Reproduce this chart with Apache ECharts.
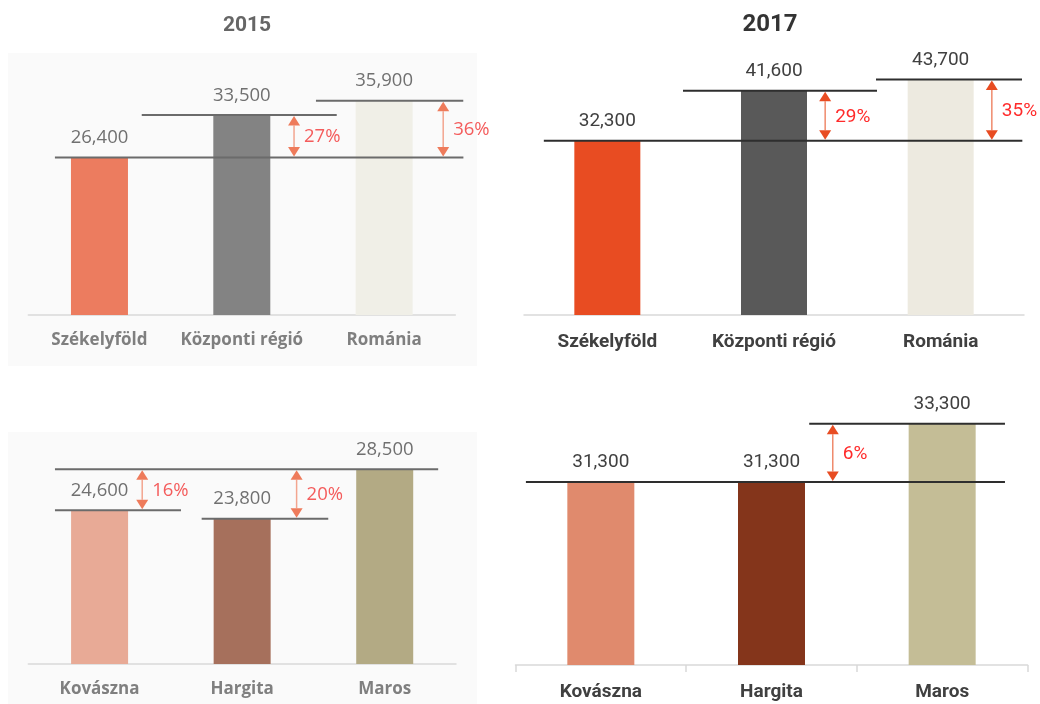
<!DOCTYPE html>
<html>
<head>
<meta charset="utf-8">
<title>Bérek 2015 / 2017</title>
<script src="https://cdn.jsdelivr.net/npm/echarts@6/dist/echarts.min.js"></script>
<style>
    html, body { margin: 0; padding: 0; background: #fff; }
    #chart { width: 1040px; height: 704px; }
</style>
</head>
<body>
<div id="chart"></div>
<script>
// 数据
let regions = ['Székelyföld', 'Központi régió', 'Románia'];
let counties = ['Kovászna', 'Hargita', 'Maros'];
let regions2015 = [26400, 33500, 35900];
let regions2017 = [32300, 41600, 43700];
let counties2015 = [24600, 23800, 28500];
let counties2017 = [31300, 31300, 33300];
let years = ['2015', '2017'];

// styles of the two years
let look = {
    '2015': {
        font: 'Open Sans', catColor: '#7f7f7f', catSize: 17, catMargin: 17,
        valColor: '#707070', valSize: 18.5,
        refLine: '#6b6b6b', arrow: '#ee7b5b', shaft: '#f3a58f', pct: '#f45c5c', pctSize: 18.5
    },
    '2017': {
        font: 'Roboto', catColor: '#404040', catSize: 19, catMargin: 18,
        valColor: '#404040', valSize: 19,
        refLine: '#2e2e2e', arrow: '#e84c22', shaft: '#ef8a6c', pct: '#ff2b2b', pctSize: 19
    }
};

// panel layout: grid box, y range, bar colours,
// ref lines [bar, from, to] and arrows [low bar, high bar, anchor bar, offset] in band widths
let panels = [
    {
        year: '2015', cats: regions, vals: regions2015,
        grid: {left: 28.3, top: 76.2, width: 427, height: 238.8}, yMin: 0, yMax: 40000,
        barWidth: 57, colors: ['#ec7c5f', '#838383', '#f0efe7'], ticks: false,
        lines: [[0, -0.313, 2.557], [1, -0.703, 0.667], [2, -0.479, 0.556]],
        arrows: [[0, 1, 1, 0.367], [0, 2, 2, 0.415]]
    },
    {
        year: '2017', cats: regions, vals: regions2017,
        grid: {left: 524, top: 72.4, width: 500, height: 242.6}, yMin: 0, yMax: 45000,
        barWidth: 66, colors: ['#e84c22', '#595959', '#edeae0'], ticks: false,
        lines: [[0, -0.381, 2.49], [1, -0.546, 0.618], [2, -0.388, 0.488]],
        arrows: [[0, 1, 1, 0.307], [0, 2, 2, 0.307]]
    },
    {
        year: '2015', cats: counties, vals: counties2015,
        grid: {left: 28.3, top: 453.4, width: 427.7, height: 210.6}, yMin: 10000, yMax: 30000,
        barWidth: 57, colors: ['#e8aa96', '#a6705c', '#b3aa84'], ticks: false,
        lines: [[0, -0.313, 0.571], [1, -0.284, 0.604], [2, -2.313, 0.375]],
        arrows: [[0, 2, 0, 0.299], [1, 2, 1, 0.382]]
    },
    {
        year: '2017', cats: counties, vals: counties2017,
        grid: {left: 515.5, top: 403.5, width: 512, height: 261.5}, yMin: 25000, yMax: 34000,
        barWidth: 67, colors: ['#e08a6d', '#84351b', '#c4bd96'], ticks: true,
        lines: [[0, -0.439, 2.368], [2, -0.779, 0.368]],
        arrows: [[1, 2, 1, 0.359]]
    }
];

function fmt(v) {
    return String(v).replace(/\B(?=(\d{3})+(?!\d))/g, ',');
}

let chart = echarts.init(document.getElementById('chart'));

let grids = [], xAxes = [], yAxes = [], series = [];

panels.forEach(function (p, i) {
    let s = look[p.year];
    grids.push(p.grid);
    xAxes.push({
        type: 'category', gridIndex: i, data: p.cats,
        axisLine: {lineStyle: {color: '#d9d9d9', width: 1.5}},
        axisTick: {show: p.ticks, length: 7, lineStyle: {color: '#d9d9d9', width: 1.5}},
        axisLabel: {
            interval: 0, margin: s.catMargin, fontFamily: s.font, fontWeight: 'bold',
            fontSize: s.catSize, color: s.catColor
        }
    });
    yAxes.push({
        type: 'value', gridIndex: i, min: p.yMin, max: p.yMax, show: false,
        splitLine: {show: false}
    });

    // bars
    series.push({
        type: 'bar', xAxisIndex: i, yAxisIndex: i, barWidth: p.barWidth,
        data: p.vals.map(function (v, k) {
            return {value: v, itemStyle: {color: p.colors[k]}};
        }),
        label: {
            show: true, position: 'top', distance: 10,
            fontFamily: s.font, fontSize: s.valSize, color: s.valColor,
            formatter: function (d) { return fmt(d.value); }
        },
        silent: true, z: 2
    });

    // horizontal reference lines at bar tops
    series.push({
        type: 'custom', xAxisIndex: i, yAxisIndex: i, silent: true, z: 5,
        encode: {x: 0, y: 1},
        data: p.lines.map(function (l) { return [l[0], p.vals[l[0]]]; }),
        renderItem: function (params, api) {
            let l = p.lines[params.dataIndex];
            let pt = api.coord([api.value(0), api.value(1)]);
            let bw = api.size([1, 0])[0];
            return {
                type: 'line',
                shape: {x1: pt[0] + l[1] * bw, y1: pt[1], x2: pt[0] + l[2] * bw, y2: pt[1]},
                style: {stroke: s.refLine, lineWidth: 2}
            };
        }
    });

    // difference arrows with percent
    series.push({
        type: 'custom', xAxisIndex: i, yAxisIndex: i, silent: true, z: 6,
        encode: {x: 0, y: [1, 2]},
        data: p.arrows.map(function (a) { return [a[2], p.vals[a[0]], p.vals[a[1]]]; }),
        renderItem: function (params, api) {
            let a = p.arrows[params.dataIndex];
            let bw = api.size([1, 0])[0];
            let lo = api.coord([api.value(0), api.value(1)]);
            let hi = api.coord([api.value(0), api.value(2)]);
            let x = lo[0] + a[3] * bw;
            let y0 = lo[1] - 1, y1 = hi[1] + 1;
            let hw = 6, hh = 9.5;
            let pct = Math.round((api.value(2) / api.value(1) - 1) * 100) + '%';
            return {
                type: 'group',
                children: [
                    {type: 'line', shape: {x1: x, y1: y1 + hh, x2: x, y2: y0 - hh},
                        style: {stroke: s.shaft, lineWidth: 1.5}},
                    {type: 'polygon', shape: {points: [[x, y1], [x - hw, y1 + hh], [x + hw, y1 + hh]]},
                        style: {fill: s.arrow}},
                    {type: 'polygon', shape: {points: [[x, y0], [x - hw, y0 - hh], [x + hw, y0 - hh]]},
                        style: {fill: s.arrow}},
                    {type: 'text', x: x + 10, y: (y0 + y1) / 2 + 1,
                        style: {text: pct, fill: s.pct, fontFamily: s.font, fontSize: s.pctSize,
                            verticalAlign: 'middle', align: 'left'}}
                ]
            };
        }
    });
});

let option = {
    animation: false,
    graphic: [
        // light backing of the 2015 panels
        {type: 'rect', shape: {x: 8, y: 53, width: 469, height: 313}, style: {fill: '#fafafa'}, z: -10},
        {type: 'rect', shape: {x: 8, y: 432, width: 469, height: 272}, style: {fill: '#fafafa'}, z: -10},
        {type: 'text', x: 247, y: 26, style: {text: years[0], align: 'center', verticalAlign: 'middle',
            fontFamily: 'Roboto', fontWeight: 'bold', fontSize: 21, fill: '#666'}},
        {type: 'text', x: 770, y: 25, style: {text: years[1], align: 'center', verticalAlign: 'middle',
            fontFamily: 'Roboto', fontWeight: 'bold', fontSize: 24, fill: '#333'}}
    ],
    grid: grids,
    xAxis: xAxes,
    yAxis: yAxes,
    series: series
};

chart.setOption(option);
</script>
</body>
</html>
